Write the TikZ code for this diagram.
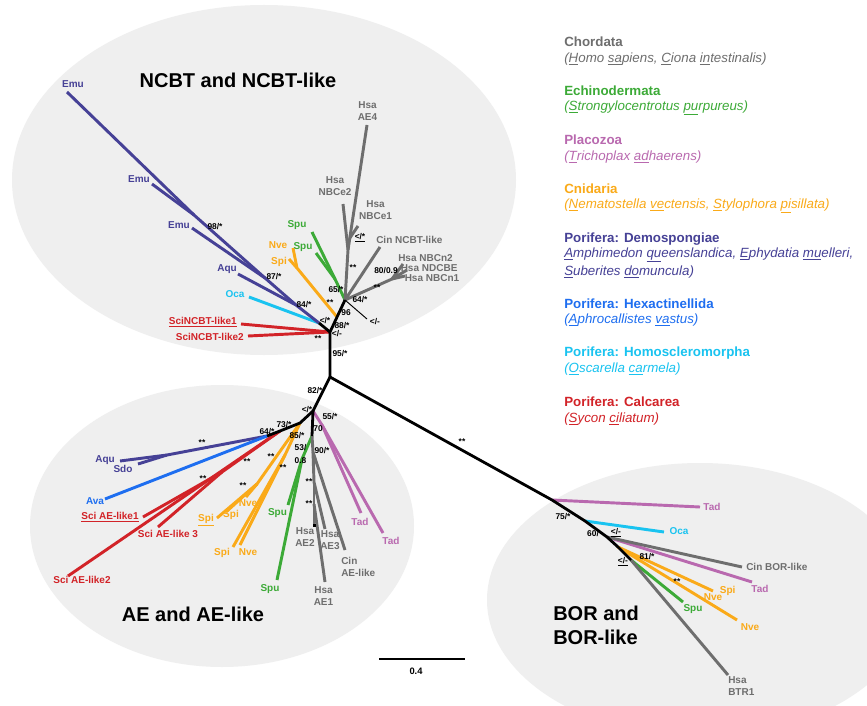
\documentclass[tikz,border=0pt]{standalone}
\usepackage{fontspec}
\setmainfont{Liberation Sans}
\definecolor{chor}{RGB}{110,110,110}
\definecolor{echi}{RGB}{60,170,55}
\definecolor{plac}{RGB}{185,105,175}
\definecolor{cnid}{RGB}{250,170,25}
\definecolor{demo}{RGB}{70,65,150}
\definecolor{hexa}{RGB}{30,110,240}
\definecolor{homo}{RGB}{25,195,240}
\definecolor{calc}{RGB}{210,35,40}
\definecolor{bg}{RGB}{239,239,239}
\begin{document}
\begin{tikzpicture}[x=0.75pt,y=-0.75pt,
  br/.style={line width=2.2pt,line join=round},
  bk/.style={line width=2.1pt,black,line join=round},
  lab/.style={font=\fontsize{7.5}{9}\selectfont\bfseries,inner sep=0pt,align=center},
  bs/.style={font=\fontsize{6.3}{7}\selectfont\bfseries,inner sep=0pt,text=black},
  ttl/.style={font=\fontsize{15}{18}\selectfont\bfseries,inner sep=0pt,align=left},
  lh/.style={font=\fontsize{10}{12}\selectfont\bfseries,anchor=west,inner sep=0pt},
  li/.style={font=\fontsize{10}{12}\selectfont\itshape,anchor=west,inner sep=0pt}]
\useasboundingbox (0,0) rectangle (867,706);
\fill[white] (0,0) rectangle (867,706);
% clade ellipses
\fill[bg] (264,180) ellipse [x radius=189pt,y radius=131.25pt];
\fill[bg] (222,526) ellipse [x radius=144pt,y radius=105.75pt];
\begin{scope}
\clip (0,0) rectangle (867,706);
\fill[bg] (700,600) ellipse [x radius=159.75pt,y radius=102.75pt];
\end{scope}

% ---------- coordinates: NCBT ----------
\coordinate (C0) at (330,377);
\coordinate (N1) at (330,332);
\coordinate (N2) at (319,323);
\coordinate (N3) at (345,300);
\coordinate (NO) at (337,317);
\coordinate (E3) at (296,305);
\coordinate (E2) at (265,278);
\coordinate (E1) at (194,215);
\coordinate (tEmuA) at (67,92);
\coordinate (tEmuB) at (152,184);
\coordinate (tEmuC) at (192,228);
\coordinate (tAquN) at (238,274);
\coordinate (tOcaN) at (249,297);
\coordinate (tSci1) at (241,324);
\coordinate (tSci2) at (248,336);
\coordinate (ON) at (297,268);
\coordinate (tNveN) at (293,248);
\coordinate (tSpiN) at (289,259);
\coordinate (GNn) at (335,279);
\coordinate (tSpuN1) at (312,232);
\coordinate (tSpuN2) at (316,253);
\coordinate (G1) at (348,250);
\coordinate (G2) at (349.8,238);
\coordinate (tNBCe2) at (343,204);
\coordinate (tAE4) at (367,125);
\coordinate (tNBCe1) at (358,226);
\coordinate (tCinN) at (380,247);
\coordinate (GN) at (392,279);
\coordinate (tNBCn2) at (403,264);
\coordinate (tNDCBE) at (407,270);
\coordinate (tNBCn1) at (405,276);
\coordinate (tThin) at (367,319);
% ---------- coordinates: AE ----------
\coordinate (A1) at (313,411);
\coordinate (AO) at (300,423);
\coordinate (AR) at (280,431);
\coordinate (AD) at (267,436);
\coordinate (A70) at (312,436);
\coordinate (PN) at (322,425);
\coordinate (tTad1) at (361,513);
\coordinate (tTad2) at (383,533);
\coordinate (GA) at (302,459);
\coordinate (tSpuA1) at (288,505);
\coordinate (tSpuA2) at (277,580);
\coordinate (GR1) at (313,452);
\coordinate (GR2) at (314,482);
\coordinate (GR3) at (314,504);
\coordinate (tAE2) at (314,525);
\coordinate (tAE3) at (325,529);
\coordinate (tCinA) at (345,550);
\coordinate (tAE1) at (325,582);
\coordinate (OU) at (257,484);
\coordinate (tSpiU) at (217,518);
\coordinate (tSpiA) at (226,512);
\coordinate (tNveA) at (246,497);
\coordinate (OL) at (285,455);
\coordinate (tSpiB) at (233,547);
\coordinate (tNveB) at (240,545);
\coordinate (RN) at (222,472);
\coordinate (tLike2) at (68,576);
\coordinate (tLike1) at (143,517);
\coordinate (tLike3) at (158,527);
\coordinate (DM) at (167,455);
\coordinate (tAquA) at (120,461);
\coordinate (tSdo) at (138,464);
\coordinate (tAva) at (105,499);
% ---------- coordinates: BOR ----------
\coordinate (B1) at (552,500);
\coordinate (B2) at (585,521);
\coordinate (B3) at (607,537);
\coordinate (B4) at (618,547);
\coordinate (B5) at (631,560);
\coordinate (tTadB1) at (700,507);
\coordinate (tOcaB) at (664,532);
\coordinate (tCinB) at (742,567);
\coordinate (tTadB2) at (752,582);
\coordinate (tSpiC) at (713,591);
\coordinate (tNveC) at (737,620);
\coordinate (tSpuB) at (683,602);
\coordinate (tBTR) at (728,675);

% ---------- NCBT branches ----------
\draw[br,calc] (N1) -- (tSci1);
\draw[br,calc] (N1) -- (tSci2);
\draw[br,homo] (N2) -- (tOcaN);
\draw[br,demo] (N2) -- (E3) -- (E2) -- (E1) -- (tEmuA);
\draw[br,demo] (E1) -- (tEmuB);
\draw[br,demo] (E2) -- (tEmuC);
\draw[br,demo] (E3) -- (tAquN);
\draw[br,cnid] (NO) -- (ON) -- (tNveN);
\draw[br,cnid] (ON) -- (tSpiN);
\draw[br,echi] (N3) -- (GNn) -- (tSpuN1);
\draw[br,echi] (GNn) -- (tSpuN2);
\draw[br,chor] (N3) -- (G1) -- (tNBCe2);
\draw[br,chor] (G1) -- (G2) -- (tAE4);
\draw[br,chor] (G2) -- (tNBCe1);
\draw[br,chor] (N3) -- (tCinN);
\draw[br,chor] (N3) -- (GN) -- (tNBCn2);
\draw[br,chor] (GN) -- (tNDCBE);
\draw[br,chor] (GN) -- (tNBCn1);
\draw[line width=0.7pt,black] (N3) -- (tThin);
% ---------- AE branches ----------
\draw[br,plac] (A1) -- (PN) -- (tTad1);
\draw[br,plac] (PN) -- (tTad2);
\draw[br,echi] (A70) -- (GA) -- (tSpuA1);
\draw[br,echi] (GA) -- (tSpuA2);
\draw[br,chor] (A70) -- (GR1) -- (tCinA);
\draw[br,chor] (GR1) -- (GR2) -- (tAE3);
\draw[br,chor] (GR2) -- (GR3) -- (tAE2);
\draw[br,chor] (GR3) -- (tAE1);
\draw[br,cnid] (AO) -- (OU) -- (tSpiU);
\draw[br,cnid] (OU) -- (tSpiA);
\draw[br,cnid] (OU) -- (tNveA);
\draw[br,cnid] (AO) -- (OL) -- (tSpiB);
\draw[br,cnid] (OL) -- (tNveB);
\draw[br,calc] (AR) -- (tLike2);
\draw[br,calc] (AR) -- (RN) -- (tLike1);
\draw[br,calc] (RN) -- (tLike3);
\draw[br,demo] (AD) -- (DM) -- (tAquA);
\draw[br,demo] (DM) -- (tSdo);
\draw[br,hexa] (AD) -- (tAva);
\fill[black] (312.5,524) rectangle (315.5,527);
% ---------- BOR branches ----------
\draw[br,plac] (B1) -- (tTadB1);
\draw[br,homo] (B2) -- (tOcaB);
\draw[br,plac] (B3) -- (tTadB2);
\draw[br,chor] (B3) -- (tCinB);
\draw[br,cnid] (B4) -- (tSpiC);
\draw[br,cnid] (B4) -- (tNveC);
\draw[br,echi] (B5) -- (tSpuB);
\draw[br,chor] (B5) -- (tBTR);
% ---------- backbone ----------
\draw[bk] (C0) -- (N1) -- (N3);
\draw[bk] (N1) -- (N2);
\draw[bk] (C0) -- (A1) -- (AO) -- (AR) -- (AD);
\draw[bk] (A1) -- (A70);
\draw[bk] (C0) -- (B1) -- (B2) -- (B3) -- (B4) -- (B5);

% ---------- titles ----------
\node[ttl] (tNCBT) at (238,80) {NCBT and NCBT-like};
\node[ttl] (tAEt) at (193,614) {AE and AE-like};
\node[ttl,anchor=west] (tBOR) at (553,625) {BOR and\\BOR-like};

% ---------- NCBT labels ----------
\node[lab,text=demo] (lEmuA) at (73,84) {Emu};
\node[lab,text=demo] (lEmuB) at (139,179) {Emu};
\node[lab,text=demo] (lEmuC) at (179,225) {Emu};
\node[lab,text=demo] (lAquN) at (227,269) {Aqu};
\node[lab,text=homo] (lOcaN) at (235,294) {Oca};
\node[lab,text=calc,anchor=east] (lSci1) at (237,322) {\underline{SciNCBT-like1}};
\node[lab,text=calc,anchor=east] (lSci2) at (244,337) {SciNCBT-like2};
\node[lab,text=cnid] (lNveN) at (278,245) {Nve};
\node[lab,text=cnid] (lSpiN) at (279,262) {Spi};
\node[lab,text=echi] (lSpuN1) at (297,225) {Spu};
\node[lab,text=echi] (lSpuN2) at (303,247) {Spu};
\node[lab,text=chor] (lAE4) at (367.5,111) {Hsa\\AE4};
\node[lab,text=chor] (lNBCe2) at (335,186) {Hsa\\NBCe2};
\node[lab,text=chor] (lNBCe1) at (375.5,210) {Hsa\\NBCe1};
\node[lab,text=chor,anchor=west] (lCinN) at (376,240) {Cin NCBT-like};
\node[lab,text=chor,anchor=west] (lNBCn2) at (398,258) {Hsa NBCn2};
\node[lab,text=chor,anchor=west] (lNDCBE) at (400.5,268) {Hsa NDCBE};
\node[lab,text=chor,anchor=west] (lNBCn1) at (404.5,278.5) {Hsa NBCn1};
% NCBT support values
\node[bs] (s98) at (215,227) {98/*};
\node[bs] (s87) at (274,277) {87/*};
\node[bs] (s84) at (304,305) {84/*};
\node[bs] (sN2) at (325,321) {</*};
\node[bs] (s88) at (342,325.5) {88/*};
\node[bs] (sN1) at (337,334) {</-};
\node[bs] (sSt1) at (318,339) {**};
\node[bs] (s95) at (340,354) {95/*};
\node[bs] (s96) at (346,313) {96};
\node[bs] (sSt2) at (330,303) {**};
\node[bs] (s65) at (336,290) {65/*};
\node[bs] (s64n) at (360,300) {64/*};
\node[bs] (sThin) at (375,322) {</-};
\node[bs] (sSt3) at (353,268) {**};
\node[bs] (sSt4) at (377,288) {**};
\node[bs] (s80) at (386,271) {80/0.9};
\node[bs] (sG2) at (360,238) {\underline{</*}};

% ---------- AE labels ----------
\node[lab,text=demo] (lAquA) at (105,460) {Aqu};
\node[lab,text=demo] (lSdo) at (123,469) {Sdo};
\node[lab,text=hexa] (lAva) at (95,501) {Ava};
\node[lab,text=calc] (lLike1) at (110,517) {\underline{Sci AE-like1}};
\node[lab,text=calc] (lLike3) at (168,534) {Sci AE-like 3};
\node[lab,text=calc] (lLike2) at (82,580) {Sci AE-like2};
\node[lab,text=cnid] (lSpiU) at (206,520) {\underline{Spi}};
\node[lab,text=cnid] (lSpiA) at (231,515) {Spi};
\node[lab,text=cnid] (lNveA) at (248,503) {Nve};
\node[lab,text=cnid] (lSpiB) at (222,553) {Spi};
\node[lab,text=cnid] (lNveB) at (248,552) {Nve};
\node[lab,text=echi] (lSpuA1) at (277.5,513) {Spu};
\node[lab,text=echi] (lSpuA2) at (270,589) {Spu};
\node[lab,text=plac] (lTad1) at (360,522) {Tad};
\node[lab,text=plac] (lTad2) at (391,541) {Tad};
\node[lab,text=chor] (lAE2) at (305,537) {Hsa\\AE2};
\node[lab,text=chor] (lAE3) at (330,540.5) {Hsa\\AE3};
\node[lab,text=chor,align=left,anchor=west] (lCinA) at (341,566.5) {Cin\\AE-like};
\node[lab,text=chor] (lAE1) at (323.5,596) {Hsa\\AE1};
% AE support values
\node[bs] (s82) at (315,391) {82/*};
\node[bs] (sA1) at (307,410) {</*};
\node[bs] (s55) at (330,417) {55/*};
\node[bs] (s70) at (318,429) {70};
\node[bs] (s73) at (284,425) {73/*};
\node[bs] (s85) at (297,436) {85/*};
\node[bs,align=center,font=\fontsize{6.3}{9.5}\selectfont\bfseries] (s53) at (300.5,454) {53/\\0.8};
\node[bs] (s90) at (322,451) {90/*};
\node[bs] (s64a) at (267,432) {64/*};
\node[bs] (sA2) at (202,443) {**};
\node[bs] (sA3) at (247,462) {**};
\node[bs] (sA4) at (203,479) {**};
\node[bs] (sA5) at (271,457) {**};
\node[bs] (sA6) at (283,468) {**};
\node[bs] (sA7) at (243,486) {**};
\node[bs] (sA8) at (309,482) {**};
\node[bs] (sA9) at (309,504) {**};

% ---------- BOR labels ----------
\node[lab,text=plac] (lTadB1) at (712,507) {Tad};
\node[lab,text=homo] (lOcaB) at (679,531) {Oca};
\node[lab,text=chor,anchor=west] (lCinB) at (746,567) {Cin BOR-like};
\node[lab,text=plac] (lTadB2) at (760,589) {Tad};
\node[lab,text=cnid] (lNveC1) at (713,597) {Nve};
\node[lab,text=cnid] (lSpiC) at (727.7,591) {Spi};
\node[lab,text=cnid] (lNveC2) at (750,627) {Nve};
\node[lab,text=echi] (lSpuB) at (693,609) {Spu};
\node[lab,text=chor,align=left,anchor=west] (lBTR) at (728,686) {Hsa\\BTR1};
% BOR support values
\node[bs] (sLong) at (462,442) {**};
\node[bs] (s75) at (563,517) {75/*};
\node[bs] (s60) at (593,534) {60/};
\node[bs] (sB3) at (616,533) {\underline{</-}};
\node[bs] (s81) at (647,557) {81/*};
\node[bs] (sB5) at (623,562) {\underline{</-}};
\node[bs] (sB6) at (677,582) {**};

% ---------- scale bar ----------
\coordinate (sb1) at (379,659);
\coordinate (sb2) at (465,659);
\draw[line width=1.6pt] (sb1) -- (sb2);
\node[bs,font=\fontsize{7}{8}\selectfont\bfseries] (sbl) at (416,671) {0.4};

% ---------- legend ----------
\node[lh,text=chor] (g1) at (564,42) {Chordata};
\node[li,text=chor] (g1i) at (564,59) {(\underline{H}omo \underline{sa}piens, \underline{C}iona \underline{in}testinalis)};
\node[lh,text=echi] (g2) at (564,91) {Echinodermata};
\node[li,text=echi] (g2i) at (564,108) {(\underline{S}trongylocentrotus \underline{pu}rpureus)};
\node[lh,text=plac] (g3) at (564,140) {Placozoa};
\node[li,text=plac] (g3i) at (564,157) {(\underline{T}richoplax \underline{ad}haerens)};
\node[lh,text=cnid] (g4) at (564,189) {Cnidaria};
\node[li,text=cnid] (g4i) at (564,206) {(\underline{N}ematostella \underline{ve}ctensis, \underline{S}tylophora \underline{pi}sillata)};
\node[lh,text=demo] (g5) at (564,239) {Porifera: Demospongiae};
\node[li,text=demo] (g5i) at (564,255) {\underline{A}mphimedon \underline{qu}eenslandica, \underline{E}phydatia \underline{mu}elleri,};
\node[li,text=demo] (g5j) at (564,272) {\underline{S}uberites \underline{do}muncula)};
\node[lh,text=hexa] (g6) at (564,304) {Porifera: Hexactinellida};
\node[li,text=hexa] (g6i) at (564,320) {(\underline{A}phrocallistes \underline{va}stus)};
\node[lh,text=homo] (g7) at (564,353) {Porifera: Homoscleromorpha};
\node[li,text=homo] (g7i) at (564,369) {(\underline{O}scarella \underline{ca}rmela)};
\node[lh,text=calc] (g8) at (564,402) {Porifera: Calcarea};
\node[li,text=calc] (g8i) at (564,419) {(\underline{S}ycon \underline{ci}liatum)};
\end{tikzpicture}
\end{document}
